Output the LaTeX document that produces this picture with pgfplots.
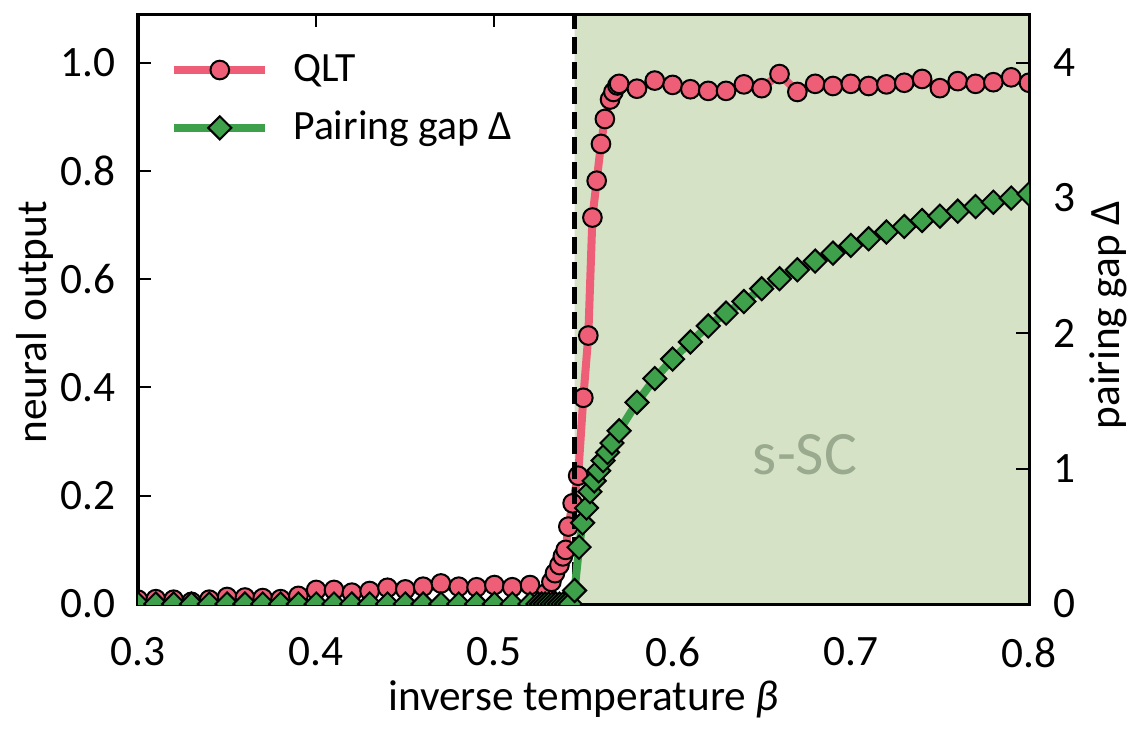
\documentclass[border=0pt]{standalone}
\usepackage{pgfplots}
\pgfplotsset{compat=1.18}
\usepackage{fontspec}
\setmainfont{Carlito}
\definecolor{qred}{RGB}{238,94,118}
\definecolor{qgreen}{RGB}{62,160,74}
\definecolor{shade}{RGB}{213,226,197}
\definecolor{sscc}{RGB}{154,170,142}

\pgfplotstableread{
x y
0.30 0.008
0.31 0.009
0.32 0.008
0.33 0.004
0.34 0.008
0.35 0.013
0.36 0.012
0.37 0.011
0.38 0.009
0.39 0.015
0.40 0.026
0.41 0.026
0.42 0.021
0.43 0.024
0.44 0.030
0.45 0.027
0.46 0.032
0.47 0.038
0.48 0.032
0.49 0.031
0.50 0.035
0.51 0.031
0.52 0.035
0.529 0.020
0.532 0.041
0.534 0.057
0.5365 0.072
0.5384 0.088
0.540 0.100
0.5415 0.143
0.5439 0.186
0.547 0.237
0.5499 0.381
0.5527 0.496
0.555 0.714
0.5574 0.782
0.5598 0.850
0.562 0.896
0.5649 0.932
0.5668 0.946
0.569 0.958
0.570 0.961
0.58 0.952
0.59 0.967
0.60 0.959
0.61 0.951
0.62 0.948
0.63 0.948
0.64 0.960
0.65 0.953
0.66 0.979
0.67 0.946
0.68 0.961
0.69 0.957
0.70 0.961
0.71 0.957
0.72 0.960
0.73 0.963
0.74 0.970
0.75 0.953
0.76 0.966
0.77 0.961
0.78 0.964
0.79 0.973
0.80 0.963
}\qlt

\pgfplotstableread{
x d
0.30 0
0.31 0
0.32 0
0.33 0
0.34 0
0.35 0
0.36 0
0.37 0
0.38 0
0.39 0
0.40 0
0.41 0
0.42 0
0.43 0
0.44 0
0.45 0
0.46 0
0.47 0
0.48 0
0.49 0
0.50 0
0.51 0
0.52 0
0.5245 0
0.5265 0
0.5285 0
0.5305 0
0.5325 0
0.5345 0
0.5365 0
0.5385 0
0.5405 0
0.5425 0
0.5450 0.10
0.5475 0.42
0.5495 0.60
0.5517 0.71
0.5536 0.83
0.5560 0.91
0.5585 0.985
0.5610 1.06
0.5635 1.12
0.5660 1.19
0.5700 1.28
0.58 1.49
0.59 1.666
0.60 1.81
0.61 1.936
0.62 2.055
0.63 2.15
0.64 2.235
0.65 2.33
0.66 2.404
0.67 2.47
0.68 2.534
0.69 2.593
0.70 2.65
0.71 2.699
0.72 2.749
0.73 2.79
0.74 2.834
0.75 2.866
0.76 2.903
0.77 2.937
0.78 2.969
0.79 3.00
0.80 3.03
}\gap

\begin{document}
\begin{tikzpicture}
\pgfplotsset{
  common/.style={
    scale only axis, width=267.3pt, height=177pt,
    at={(0,0)}, anchor=south west,
    xmin=0.3, xmax=0.8,
    clip mode=individual,
    clip marker paths=true,
    tick align=inside,
    major tick length=3.9pt,
    every tick/.style={line width=0.6pt, black},
    axis line style={line width=0.9pt},
    tick label style={font=\fontsize{13}{15}\selectfont},
    label style={font=\fontsize{13}{15.5}\selectfont},
    /pgf/number format/assume math mode=true,
  },
}
\begin{axis}[common,
  ymin=0, ymax=1.09,
  xtick={0.3,0.4,0.5,0.6,0.7,0.8},
  ytick={0,0.2,0.4,0.6,0.8,1.0},
  xtick pos=both, ytick pos=left,
  xticklabel style={/pgf/number format/.cd, fixed, fixed zerofill, precision=1, /tikz/.cd, yshift=-6.5pt},
  yticklabel style={/pgf/number format/.cd, fixed, fixed zerofill, precision=1, /tikz/.cd, xshift=-3.3pt},
  xlabel={inverse temperature \textit{β}},
  ylabel={neural output},
  xlabel style={at={(axis description cs:0.5,0)}, anchor=center, yshift=-28.5pt},
  ylabel style={at={(axis description cs:-0.1156,0.4774)}, anchor=center},
  legend cell align=left,
  legend style={draw=none, fill=none, at={(0,1)}, anchor=north west,
    xshift=6.5pt, yshift=-7.8pt, row sep=3.5pt,
    font=\fontsize{12.5}{15}\selectfont},
  legend image code/.code={\draw[mark repeat=2, mark phase=2, #1] plot coordinates {(0pt,0pt) (13.65pt,0pt) (27.3pt,0pt)}; \path (32.5pt,0pt);},
]
\addplot[fill=shade, draw=none, forget plot] coordinates {(0.545,0) (0.545,1.09) (0.8,1.09) (0.8,0)} \closedcycle;
\addplot[qred, line width=2.4pt, mark=*, mark size=2.8pt,
  mark options={fill=qred, draw=black, line width=0.6pt}] table[x=x, y=y] {\qlt};
\addlegendentry{QLT}
\addlegendimage{qgreen, line width=2.4pt, mark=square*, mark size=2.45pt,
  mark options={rotate=45, fill=qgreen, draw=black, line width=0.6pt}}
\addlegendentry{Pairing gap Δ}
\addplot[black, line width=1.4pt, dash pattern=on 5pt off 2.5pt, forget plot] coordinates {(0.545,0) (0.545,1.09)};
\node[text=sscc, font=\fontsize{18.5}{20}\selectfont] at (axis cs:0.6743,0.276) {s-SC};
\end{axis}
\begin{axis}[common,
  ymin=0, ymax=4.36,
  xtick=\empty,
  ytick={0,1,2,3,4},
  ytick pos=right, yticklabel pos=right,
  yticklabel style={xshift=3.8pt},
  ylabel={pairing gap Δ},
  ylabel style={at={(axis description cs:1.0887,0.4898)}, anchor=center},
]
\addplot[qgreen, line width=2.4pt, mark=square*, mark size=2.45pt,
  mark options={rotate=45, fill=qgreen, draw=black, line width=0.6pt}] table[x=x, y=d] {\gap};
\end{axis}
\pgfresetboundingbox
\path (-41.4pt,-39.3pt) rectangle (300.6pt,181.2pt);
\end{tikzpicture}
\end{document}
